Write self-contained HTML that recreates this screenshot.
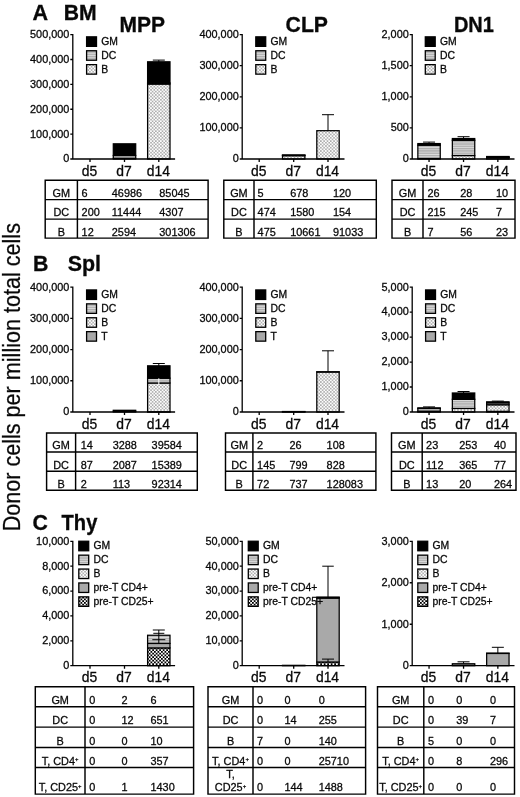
<!DOCTYPE html>
<html lang="en"><head><meta charset="utf-8"><title>Donor cells per million total cells</title>
<style>html,body{margin:0;padding:0;background:#fff}body{width:520px;height:797px;overflow:hidden}svg{display:block}text{font-family:"Liberation Sans", Arial, Helvetica, sans-serif;fill:#080808}</style>
</head><body>
<svg width="520" height="797" viewBox="0 0 520 797">
<defs>
<pattern id="pB" width="3.3" height="3.3" patternUnits="userSpaceOnUse"><rect width="3.3" height="3.3" fill="#aaa"/><circle cx="0.825" cy="0.825" r="1.02" fill="#fff"/><circle cx="2.475" cy="2.475" r="1.02" fill="#fff"/></pattern>
<pattern id="pDC" width="4" height="2.3" patternUnits="userSpaceOnUse"><rect width="4" height="2.3" fill="#dcdcdc"/><rect y="0.9" width="4" height="1.1" fill="#a4a4a4"/></pattern>
<pattern id="pT" width="2" height="2" patternUnits="userSpaceOnUse"><rect width="2" height="2" fill="#a9a9a9"/></pattern>
<pattern id="pC" width="3.5" height="3.5" patternUnits="userSpaceOnUse"><rect width="3.5" height="3.5" fill="#fff"/><rect width="1.75" height="1.75" fill="#000"/><rect x="1.75" y="1.75" width="1.75" height="1.75" fill="#000"/></pattern>
</defs>
<rect width="520" height="797" fill="#fff"/>
<text transform="translate(19.7 377.2) rotate(-90) scale(1 1.075)" font-size="21.6" text-anchor="middle" stroke="#111" stroke-width="0.25">Donor cells per million total cells</text>
<text transform="translate(32.5 19.7) scale(1.0 0.986)" font-size="21.6" text-anchor="start" font-weight="bold" stroke="#080808" stroke-width="0.3">A</text>
<text transform="translate(63.7 19.7) scale(1.0 1.005)" font-size="21.2" text-anchor="start" font-weight="bold" stroke="#080808" stroke-width="0.3">BM</text>
<text transform="translate(119.6 31.6) scale(1.0 1.014)" font-size="21.0" text-anchor="start" font-weight="bold" stroke="#080808" stroke-width="0.3">MPP</text>
<text transform="translate(285.6 31.6) scale(1.0 1.005)" font-size="21.2" text-anchor="start" font-weight="bold" stroke="#080808" stroke-width="0.3">CLP</text>
<text transform="translate(453.9 31.7) scale(1.0 1.065)" font-size="20.0" text-anchor="start" font-weight="bold" stroke="#080808" stroke-width="0.3">DN1</text>
<text transform="translate(32.9 271.4) scale(1.0 1.0)" font-size="21.3" text-anchor="start" font-weight="bold" stroke="#080808" stroke-width="0.3">B</text>
<text transform="translate(67.8 271.4) scale(1.0 0.995)" font-size="21.4" text-anchor="start" font-weight="bold" stroke="#080808" stroke-width="0.3">Spl</text>
<text transform="translate(32.6 530.2) scale(1.0 1.0)" font-size="21.3" text-anchor="start" font-weight="bold" stroke="#080808" stroke-width="0.3">C</text>
<text transform="translate(61.6 530.2) scale(1.0 1.06)" font-size="20.1" text-anchor="start" font-weight="bold" stroke="#080808" stroke-width="0.3">Thy</text>
<rect x="113.3" y="158.35" width="22.4" height="0.65" fill="url(#pB)" stroke="#000" stroke-width="1.25"/>
<rect x="113.3" y="155.51" width="22.4" height="2.85" fill="url(#pDC)" stroke="#000" stroke-width="1.25"/>
<rect x="113.3" y="143.82" width="22.4" height="11.69" fill="#000" stroke="#000" stroke-width="1.25"/>
<rect x="147.6" y="84.04" width="22.4" height="74.96" fill="url(#pB)" stroke="#000" stroke-width="1.25"/>
<rect x="147.6" y="82.96" width="22.4" height="1.07" fill="url(#pDC)" stroke="#000" stroke-width="1.25"/>
<rect x="147.6" y="61.8" width="22.4" height="21.16" fill="#000" stroke="#000" stroke-width="1.25"/>
<path d="M158.8 62V60.1M152.8 60.1H164.8" stroke="#000" stroke-width="1" fill="none"/>
<path d="M72.8 34V159H175.1M72.8 159h-2.5M72.8 134.12h-2.5M72.8 109.24h-2.5M72.8 84.36h-2.5M72.8 59.48h-2.5M72.8 34.6h-2.5M90 159v3.1M124.5 159v3.1M158.8 159v3.1" stroke="#000" stroke-width="1.3" fill="none"/>
<text transform="translate(69.4 162.4) scale(1.0 1.0)" font-size="10.9" text-anchor="end" stroke="#080808" stroke-width="0.28">0</text>
<text transform="translate(69.4 137.52) scale(1.0 1.0)" font-size="10.9" text-anchor="end" stroke="#080808" stroke-width="0.28">100,000</text>
<text transform="translate(69.4 112.64) scale(1.0 1.0)" font-size="10.9" text-anchor="end" stroke="#080808" stroke-width="0.28">200,000</text>
<text transform="translate(69.4 87.76) scale(1.0 1.0)" font-size="10.9" text-anchor="end" stroke="#080808" stroke-width="0.28">300,000</text>
<text transform="translate(69.4 62.88) scale(1.0 1.0)" font-size="10.9" text-anchor="end" stroke="#080808" stroke-width="0.28">400,000</text>
<text transform="translate(69.4 38) scale(1.0 1.0)" font-size="10.9" text-anchor="end" stroke="#080808" stroke-width="0.28">500,000</text>
<text transform="translate(89.5 175.7) scale(1.0 1.06)" font-size="13.9" text-anchor="middle" stroke="#080808" stroke-width="0.28">d5</text>
<text transform="translate(124 175.7) scale(1.0 1.06)" font-size="13.9" text-anchor="middle" stroke="#080808" stroke-width="0.28">d7</text>
<text transform="translate(158.3 175.7) scale(1.0 1.06)" font-size="13.9" text-anchor="middle" stroke="#080808" stroke-width="0.28">d14</text>
<rect x="86.6" y="36.85" width="9.9" height="9.5" fill="#000" stroke="#000" stroke-width="1.3"/>
<text transform="translate(101.2 45) scale(1.0 1.0)" font-size="10.4" text-anchor="start" stroke="#080808" stroke-width="0.28">GM</text>
<rect x="86.6" y="50.75" width="9.9" height="9.5" fill="url(#pDC)" stroke="#000" stroke-width="1.3"/>
<text transform="translate(101.2 58.9) scale(1.0 1.0)" font-size="10.4" text-anchor="start" stroke="#080808" stroke-width="0.28">DC</text>
<rect x="86.6" y="64.65" width="9.9" height="9.5" fill="url(#pB)" stroke="#000" stroke-width="1.3"/>
<text transform="translate(101.2 72.8) scale(1.0 1.0)" font-size="10.4" text-anchor="start" stroke="#080808" stroke-width="0.28">B</text>
<rect x="282.5" y="155.68" width="22.4" height="3.32" fill="url(#pB)" stroke="#000" stroke-width="1.25"/>
<rect x="282.5" y="155.19" width="22.4" height="0.49" fill="url(#pDC)" stroke="#000" stroke-width="1.25"/>
<rect x="282.5" y="154.98" width="22.4" height="0.21" fill="#000" stroke="#000" stroke-width="1.25"/>
<rect x="316.8" y="130.69" width="22.4" height="28.31" fill="url(#pB)" stroke="#000" stroke-width="1.25"/>
<path d="M328 130.5V114.7M322 114.7H334" stroke="#000" stroke-width="1" fill="none"/>
<path d="M242.2 34V159H344.5M242.2 159h-2.5M242.2 127.9h-2.5M242.2 96.8h-2.5M242.2 65.7h-2.5M242.2 34.6h-2.5M259.2 159v3.1M293.7 159v3.1M328 159v3.1" stroke="#000" stroke-width="1.3" fill="none"/>
<text transform="translate(238.8 162.4) scale(1.0 1.0)" font-size="10.9" text-anchor="end" stroke="#080808" stroke-width="0.28">0</text>
<text transform="translate(238.8 131.3) scale(1.0 1.0)" font-size="10.9" text-anchor="end" stroke="#080808" stroke-width="0.28">100,000</text>
<text transform="translate(238.8 100.2) scale(1.0 1.0)" font-size="10.9" text-anchor="end" stroke="#080808" stroke-width="0.28">200,000</text>
<text transform="translate(238.8 69.1) scale(1.0 1.0)" font-size="10.9" text-anchor="end" stroke="#080808" stroke-width="0.28">300,000</text>
<text transform="translate(238.8 38) scale(1.0 1.0)" font-size="10.9" text-anchor="end" stroke="#080808" stroke-width="0.28">400,000</text>
<text transform="translate(258.7 175.7) scale(1.0 1.06)" font-size="13.9" text-anchor="middle" stroke="#080808" stroke-width="0.28">d5</text>
<text transform="translate(293.2 175.7) scale(1.0 1.06)" font-size="13.9" text-anchor="middle" stroke="#080808" stroke-width="0.28">d7</text>
<text transform="translate(327.5 175.7) scale(1.0 1.06)" font-size="13.9" text-anchor="middle" stroke="#080808" stroke-width="0.28">d14</text>
<rect x="255.8" y="36.85" width="9.9" height="9.5" fill="#000" stroke="#000" stroke-width="1.3"/>
<text transform="translate(270.4 45) scale(1.0 1.0)" font-size="10.4" text-anchor="start" stroke="#080808" stroke-width="0.28">GM</text>
<rect x="255.8" y="50.75" width="9.9" height="9.5" fill="url(#pDC)" stroke="#000" stroke-width="1.3"/>
<text transform="translate(270.4 58.9) scale(1.0 1.0)" font-size="10.4" text-anchor="start" stroke="#080808" stroke-width="0.28">DC</text>
<rect x="255.8" y="64.65" width="9.9" height="9.5" fill="url(#pB)" stroke="#000" stroke-width="1.3"/>
<text transform="translate(270.4 72.8) scale(1.0 1.0)" font-size="10.4" text-anchor="start" stroke="#080808" stroke-width="0.28">B</text>
<rect x="417.85" y="158.56" width="22.4" height="0.44" fill="url(#pB)" stroke="#000" stroke-width="1.25"/>
<rect x="417.85" y="145.19" width="22.4" height="13.37" fill="url(#pDC)" stroke="#000" stroke-width="1.25"/>
<rect x="417.85" y="143.57" width="22.4" height="1.62" fill="#000" stroke="#000" stroke-width="1.25"/>
<rect x="452.35" y="155.52" width="22.4" height="3.48" fill="url(#pB)" stroke="#000" stroke-width="1.25"/>
<rect x="452.35" y="140.28" width="22.4" height="15.24" fill="url(#pDC)" stroke="#000" stroke-width="1.25"/>
<rect x="452.35" y="138.54" width="22.4" height="1.74" fill="#000" stroke="#000" stroke-width="1.25"/>
<rect x="486.65" y="157.57" width="22.4" height="1.43" fill="url(#pB)" stroke="#000" stroke-width="1.25"/>
<rect x="486.65" y="157.13" width="22.4" height="0.44" fill="url(#pDC)" stroke="#000" stroke-width="1.25"/>
<rect x="486.65" y="156.51" width="22.4" height="0.62" fill="#000" stroke="#000" stroke-width="1.25"/>
<path d="M429.05 144V142.1M423.05 142.1H435.05" stroke="#000" stroke-width="1" fill="none"/>
<path d="M463.55 138.8V136.7M457.55 136.7H469.55" stroke="#000" stroke-width="1" fill="none"/>
<path d="M412.2 34V159H514.5M412.2 159h-2.5M412.2 127.9h-2.5M412.2 96.8h-2.5M412.2 65.7h-2.5M412.2 34.6h-2.5M429.05 159v3.1M463.55 159v3.1M497.85 159v3.1" stroke="#000" stroke-width="1.3" fill="none"/>
<text transform="translate(408.8 162.4) scale(1.0 1.0)" font-size="10.9" text-anchor="end" stroke="#080808" stroke-width="0.28">0</text>
<text transform="translate(408.8 131.3) scale(1.0 1.0)" font-size="10.9" text-anchor="end" stroke="#080808" stroke-width="0.28">500</text>
<text transform="translate(408.8 100.2) scale(1.0 1.0)" font-size="10.9" text-anchor="end" stroke="#080808" stroke-width="0.28">1,000</text>
<text transform="translate(408.8 69.1) scale(1.0 1.0)" font-size="10.9" text-anchor="end" stroke="#080808" stroke-width="0.28">1,500</text>
<text transform="translate(408.8 38) scale(1.0 1.0)" font-size="10.9" text-anchor="end" stroke="#080808" stroke-width="0.28">2,000</text>
<text transform="translate(428.55 175.7) scale(1.0 1.06)" font-size="13.9" text-anchor="middle" stroke="#080808" stroke-width="0.28">d5</text>
<text transform="translate(463.05 175.7) scale(1.0 1.06)" font-size="13.9" text-anchor="middle" stroke="#080808" stroke-width="0.28">d7</text>
<text transform="translate(497.35 175.7) scale(1.0 1.06)" font-size="13.9" text-anchor="middle" stroke="#080808" stroke-width="0.28">d14</text>
<rect x="425.3" y="36.85" width="9.9" height="9.5" fill="#000" stroke="#000" stroke-width="1.3"/>
<text transform="translate(439.9 45) scale(1.0 1.0)" font-size="10.4" text-anchor="start" stroke="#080808" stroke-width="0.28">GM</text>
<rect x="425.3" y="50.75" width="9.9" height="9.5" fill="url(#pDC)" stroke="#000" stroke-width="1.3"/>
<text transform="translate(439.9 58.9) scale(1.0 1.0)" font-size="10.4" text-anchor="start" stroke="#080808" stroke-width="0.28">DC</text>
<rect x="425.3" y="64.65" width="9.9" height="9.5" fill="url(#pB)" stroke="#000" stroke-width="1.3"/>
<text transform="translate(439.9 72.8) scale(1.0 1.0)" font-size="10.4" text-anchor="start" stroke="#080808" stroke-width="0.28">B</text>
<rect x="113.3" y="411.31" width="22.4" height="0.65" fill="url(#pDC)" stroke="#000" stroke-width="1.25"/>
<rect x="113.3" y="410.29" width="22.4" height="1.03" fill="#000" stroke="#000" stroke-width="1.25"/>
<rect x="147.6" y="411.81" width="22.4" height="0.19" fill="url(#pT)" stroke="#000" stroke-width="1.25"/>
<rect x="147.6" y="382.99" width="22.4" height="28.83" fill="url(#pB)" stroke="#000" stroke-width="1.25"/>
<rect x="147.6" y="378.18" width="22.4" height="4.81" fill="url(#pDC)" stroke="#000" stroke-width="1.25"/>
<rect x="147.6" y="365.82" width="22.4" height="12.36" fill="#000" stroke="#000" stroke-width="1.25"/>
<path d="M158.8 366.5V363.5M152.8 363.5H164.8" stroke="#000" stroke-width="1" fill="none"/>
<path d="M158.8 385V378.3M158.8 378.3H158.8" stroke="#fff" stroke-width="1" fill="none"/>
<path d="M72.8 286.5V412H175.1M72.8 412h-2.5M72.8 380.77h-2.5M72.8 349.55h-2.5M72.8 318.33h-2.5M72.8 287.1h-2.5M90 412v3.1M124.5 412v3.1M158.8 412v3.1" stroke="#000" stroke-width="1.3" fill="none"/>
<text transform="translate(69.4 415.4) scale(1.0 1.0)" font-size="10.9" text-anchor="end" stroke="#080808" stroke-width="0.28">0</text>
<text transform="translate(69.4 384.17) scale(1.0 1.0)" font-size="10.9" text-anchor="end" stroke="#080808" stroke-width="0.28">100,000</text>
<text transform="translate(69.4 352.95) scale(1.0 1.0)" font-size="10.9" text-anchor="end" stroke="#080808" stroke-width="0.28">200,000</text>
<text transform="translate(69.4 321.73) scale(1.0 1.0)" font-size="10.9" text-anchor="end" stroke="#080808" stroke-width="0.28">300,000</text>
<text transform="translate(69.4 290.5) scale(1.0 1.0)" font-size="10.9" text-anchor="end" stroke="#080808" stroke-width="0.28">400,000</text>
<text transform="translate(89.5 428.7) scale(1.0 1.06)" font-size="13.9" text-anchor="middle" stroke="#080808" stroke-width="0.28">d5</text>
<text transform="translate(124 428.7) scale(1.0 1.06)" font-size="13.9" text-anchor="middle" stroke="#080808" stroke-width="0.28">d7</text>
<text transform="translate(158.3 428.7) scale(1.0 1.06)" font-size="13.9" text-anchor="middle" stroke="#080808" stroke-width="0.28">d14</text>
<rect x="86.6" y="289.95" width="9.9" height="9.5" fill="#000" stroke="#000" stroke-width="1.3"/>
<text transform="translate(101.2 298.1) scale(1.0 1.0)" font-size="10.4" text-anchor="start" stroke="#080808" stroke-width="0.28">GM</text>
<rect x="86.6" y="303.85" width="9.9" height="9.5" fill="url(#pDC)" stroke="#000" stroke-width="1.3"/>
<text transform="translate(101.2 312) scale(1.0 1.0)" font-size="10.4" text-anchor="start" stroke="#080808" stroke-width="0.28">DC</text>
<rect x="86.6" y="317.75" width="9.9" height="9.5" fill="url(#pB)" stroke="#000" stroke-width="1.3"/>
<text transform="translate(101.2 325.9) scale(1.0 1.0)" font-size="10.4" text-anchor="start" stroke="#080808" stroke-width="0.28">B</text>
<rect x="86.6" y="331.65" width="9.9" height="9.5" fill="url(#pT)" stroke="#000" stroke-width="1.3"/>
<text transform="translate(101.2 339.8) scale(1.0 1.0)" font-size="10.4" text-anchor="start" stroke="#080808" stroke-width="0.28">T</text>
<rect x="282.5" y="411.77" width="22.4" height="0.23" fill="url(#pB)" stroke="#000" stroke-width="1.25"/>
<rect x="282.5" y="411.52" width="22.4" height="0.25" fill="url(#pDC)" stroke="#000" stroke-width="1.25"/>
<rect x="316.8" y="372.01" width="22.4" height="39.99" fill="url(#pB)" stroke="#000" stroke-width="1.25"/>
<rect x="316.8" y="371.75" width="22.4" height="0.26" fill="url(#pDC)" stroke="#000" stroke-width="1.25"/>
<path d="M328 372V350.8M322 350.8H334" stroke="#000" stroke-width="1" fill="none"/>
<path d="M242.2 286.5V412H344.5M242.2 412h-2.5M242.2 380.77h-2.5M242.2 349.55h-2.5M242.2 318.33h-2.5M242.2 287.1h-2.5M259.2 412v3.1M293.7 412v3.1M328 412v3.1" stroke="#000" stroke-width="1.3" fill="none"/>
<text transform="translate(238.8 415.4) scale(1.0 1.0)" font-size="10.9" text-anchor="end" stroke="#080808" stroke-width="0.28">0</text>
<text transform="translate(238.8 384.17) scale(1.0 1.0)" font-size="10.9" text-anchor="end" stroke="#080808" stroke-width="0.28">100,000</text>
<text transform="translate(238.8 352.95) scale(1.0 1.0)" font-size="10.9" text-anchor="end" stroke="#080808" stroke-width="0.28">200,000</text>
<text transform="translate(238.8 321.73) scale(1.0 1.0)" font-size="10.9" text-anchor="end" stroke="#080808" stroke-width="0.28">300,000</text>
<text transform="translate(238.8 290.5) scale(1.0 1.0)" font-size="10.9" text-anchor="end" stroke="#080808" stroke-width="0.28">400,000</text>
<text transform="translate(258.7 428.7) scale(1.0 1.06)" font-size="13.9" text-anchor="middle" stroke="#080808" stroke-width="0.28">d5</text>
<text transform="translate(293.2 428.7) scale(1.0 1.06)" font-size="13.9" text-anchor="middle" stroke="#080808" stroke-width="0.28">d7</text>
<text transform="translate(327.5 428.7) scale(1.0 1.06)" font-size="13.9" text-anchor="middle" stroke="#080808" stroke-width="0.28">d14</text>
<rect x="255.8" y="289.95" width="9.9" height="9.5" fill="#000" stroke="#000" stroke-width="1.3"/>
<text transform="translate(270.4 298.1) scale(1.0 1.0)" font-size="10.4" text-anchor="start" stroke="#080808" stroke-width="0.28">GM</text>
<rect x="255.8" y="303.85" width="9.9" height="9.5" fill="url(#pDC)" stroke="#000" stroke-width="1.3"/>
<text transform="translate(270.4 312) scale(1.0 1.0)" font-size="10.4" text-anchor="start" stroke="#080808" stroke-width="0.28">DC</text>
<rect x="255.8" y="317.75" width="9.9" height="9.5" fill="url(#pB)" stroke="#000" stroke-width="1.3"/>
<text transform="translate(270.4 325.9) scale(1.0 1.0)" font-size="10.4" text-anchor="start" stroke="#080808" stroke-width="0.28">B</text>
<rect x="255.8" y="331.65" width="9.9" height="9.5" fill="url(#pT)" stroke="#000" stroke-width="1.3"/>
<text transform="translate(270.4 339.8) scale(1.0 1.0)" font-size="10.4" text-anchor="start" stroke="#080808" stroke-width="0.28">T</text>
<rect x="417.85" y="411.58" width="22.4" height="0.42" fill="url(#pT)" stroke="#000" stroke-width="1.25"/>
<rect x="417.85" y="411.25" width="22.4" height="0.32" fill="url(#pB)" stroke="#000" stroke-width="1.25"/>
<rect x="417.85" y="408.45" width="22.4" height="2.8" fill="url(#pDC)" stroke="#000" stroke-width="1.25"/>
<rect x="417.85" y="407.88" width="22.4" height="0.57" fill="#000" stroke="#000" stroke-width="1.25"/>
<rect x="452.35" y="408.43" width="22.4" height="3.57" fill="url(#pB)" stroke="#000" stroke-width="1.25"/>
<rect x="452.35" y="399.31" width="22.4" height="9.12" fill="url(#pDC)" stroke="#000" stroke-width="1.25"/>
<rect x="452.35" y="392.99" width="22.4" height="6.32" fill="#000" stroke="#000" stroke-width="1.25"/>
<rect x="486.65" y="411.35" width="22.4" height="0.65" fill="url(#pT)" stroke="#000" stroke-width="1.25"/>
<rect x="486.65" y="404.76" width="22.4" height="6.59" fill="url(#pB)" stroke="#000" stroke-width="1.25"/>
<rect x="486.65" y="402.83" width="22.4" height="1.92" fill="url(#pDC)" stroke="#000" stroke-width="1.25"/>
<rect x="486.65" y="401.83" width="22.4" height="1" fill="#000" stroke="#000" stroke-width="1.25"/>
<path d="M429.05 408.1V406.9M423.05 406.9H435.05" stroke="#000" stroke-width="1" fill="none"/>
<path d="M463.55 393.3V391.5M457.55 391.5H469.55" stroke="#000" stroke-width="1" fill="none"/>
<path d="M497.85 402V401.1M491.85 401.1H503.85" stroke="#000" stroke-width="1" fill="none"/>
<path d="M412.2 286.5V412H514.5M412.2 412h-2.5M412.2 387.02h-2.5M412.2 362.04h-2.5M412.2 337.06h-2.5M412.2 312.08h-2.5M412.2 287.1h-2.5M429.05 412v3.1M463.55 412v3.1M497.85 412v3.1" stroke="#000" stroke-width="1.3" fill="none"/>
<text transform="translate(408.8 415.4) scale(1.0 1.0)" font-size="10.9" text-anchor="end" stroke="#080808" stroke-width="0.28">0</text>
<text transform="translate(408.8 390.42) scale(1.0 1.0)" font-size="10.9" text-anchor="end" stroke="#080808" stroke-width="0.28">1,000</text>
<text transform="translate(408.8 365.44) scale(1.0 1.0)" font-size="10.9" text-anchor="end" stroke="#080808" stroke-width="0.28">2,000</text>
<text transform="translate(408.8 340.46) scale(1.0 1.0)" font-size="10.9" text-anchor="end" stroke="#080808" stroke-width="0.28">3,000</text>
<text transform="translate(408.8 315.48) scale(1.0 1.0)" font-size="10.9" text-anchor="end" stroke="#080808" stroke-width="0.28">4,000</text>
<text transform="translate(408.8 290.5) scale(1.0 1.0)" font-size="10.9" text-anchor="end" stroke="#080808" stroke-width="0.28">5,000</text>
<text transform="translate(428.55 428.7) scale(1.0 1.06)" font-size="13.9" text-anchor="middle" stroke="#080808" stroke-width="0.28">d5</text>
<text transform="translate(463.05 428.7) scale(1.0 1.06)" font-size="13.9" text-anchor="middle" stroke="#080808" stroke-width="0.28">d7</text>
<text transform="translate(497.35 428.7) scale(1.0 1.06)" font-size="13.9" text-anchor="middle" stroke="#080808" stroke-width="0.28">d14</text>
<rect x="425.6" y="289.95" width="9.9" height="9.5" fill="#000" stroke="#000" stroke-width="1.3"/>
<text transform="translate(440.2 298.1) scale(1.0 1.0)" font-size="10.4" text-anchor="start" stroke="#080808" stroke-width="0.28">GM</text>
<rect x="425.6" y="303.85" width="9.9" height="9.5" fill="url(#pDC)" stroke="#000" stroke-width="1.3"/>
<text transform="translate(440.2 312) scale(1.0 1.0)" font-size="10.4" text-anchor="start" stroke="#080808" stroke-width="0.28">DC</text>
<rect x="425.6" y="317.75" width="9.9" height="9.5" fill="url(#pB)" stroke="#000" stroke-width="1.3"/>
<text transform="translate(440.2 325.9) scale(1.0 1.0)" font-size="10.4" text-anchor="start" stroke="#080808" stroke-width="0.28">B</text>
<rect x="425.6" y="331.65" width="9.9" height="9.5" fill="url(#pT)" stroke="#000" stroke-width="1.3"/>
<text transform="translate(440.2 339.8) scale(1.0 1.0)" font-size="10.4" text-anchor="start" stroke="#080808" stroke-width="0.28">T</text>
<rect x="147.6" y="647.91" width="22.4" height="17.79" fill="url(#pC)" stroke="#000" stroke-width="1.25"/>
<rect x="147.6" y="643.47" width="22.4" height="4.44" fill="url(#pT)" stroke="#000" stroke-width="1.25"/>
<rect x="147.6" y="635.25" width="22.4" height="8.1" fill="url(#pDC)" stroke="#000" stroke-width="1.25"/>
<path d="M158.8 644V630M152.8 630H164.8" stroke="#000" stroke-width="1" fill="none"/>
<path d="M158.8 633.5V633.3M153.3 633.3H164.3" stroke="#000" stroke-width="1" fill="none"/>
<path d="M158.8 639.8V639.7M152.3 639.7H165.3" stroke="#000" stroke-width="1" fill="none"/>
<path d="M72.8 540.7V665.7H175.1M72.8 665.7h-2.5M72.8 640.82h-2.5M72.8 615.94h-2.5M72.8 591.06h-2.5M72.8 566.18h-2.5M72.8 541.3h-2.5M90 665.7v3.1M124.5 665.7v3.1M158.8 665.7v3.1" stroke="#000" stroke-width="1.3" fill="none"/>
<text transform="translate(69.4 669.1) scale(1.0 1.0)" font-size="10.9" text-anchor="end" stroke="#080808" stroke-width="0.28">0</text>
<text transform="translate(69.4 644.22) scale(1.0 1.0)" font-size="10.9" text-anchor="end" stroke="#080808" stroke-width="0.28">2,000</text>
<text transform="translate(69.4 619.34) scale(1.0 1.0)" font-size="10.9" text-anchor="end" stroke="#080808" stroke-width="0.28">4,000</text>
<text transform="translate(69.4 594.46) scale(1.0 1.0)" font-size="10.9" text-anchor="end" stroke="#080808" stroke-width="0.28">6,000</text>
<text transform="translate(69.4 569.58) scale(1.0 1.0)" font-size="10.9" text-anchor="end" stroke="#080808" stroke-width="0.28">8,000</text>
<text transform="translate(69.4 544.7) scale(1.0 1.0)" font-size="10.9" text-anchor="end" stroke="#080808" stroke-width="0.28">10,000</text>
<text transform="translate(89.5 682.4) scale(1.0 1.06)" font-size="13.9" text-anchor="middle" stroke="#080808" stroke-width="0.28">d5</text>
<text transform="translate(124 682.4) scale(1.0 1.06)" font-size="13.9" text-anchor="middle" stroke="#080808" stroke-width="0.28">d7</text>
<text transform="translate(158.3 682.4) scale(1.0 1.06)" font-size="13.9" text-anchor="middle" stroke="#080808" stroke-width="0.28">d14</text>
<rect x="78.8" y="541.25" width="9.9" height="9.5" fill="#000" stroke="#000" stroke-width="1.3"/>
<text transform="translate(93.4 549.4) scale(1.0 1.0)" font-size="10.4" text-anchor="start" stroke="#080808" stroke-width="0.28">GM</text>
<rect x="78.8" y="555.15" width="9.9" height="9.5" fill="url(#pDC)" stroke="#000" stroke-width="1.3"/>
<text transform="translate(93.4 563.3) scale(1.0 1.0)" font-size="10.4" text-anchor="start" stroke="#080808" stroke-width="0.28">DC</text>
<rect x="78.8" y="569.05" width="9.9" height="9.5" fill="url(#pB)" stroke="#000" stroke-width="1.3"/>
<text transform="translate(93.4 577.2) scale(1.0 1.0)" font-size="10.4" text-anchor="start" stroke="#080808" stroke-width="0.28">B</text>
<rect x="78.8" y="582.95" width="9.9" height="9.5" fill="url(#pT)" stroke="#000" stroke-width="1.3"/>
<text transform="translate(93.4 591.1) scale(1.0 1.0)" font-size="10.4" text-anchor="start" stroke="#080808" stroke-width="0.28">pre-T CD4+</text>
<rect x="78.8" y="596.85" width="9.9" height="9.5" fill="url(#pC)" stroke="#000" stroke-width="1.3"/>
<text transform="translate(93.4 605) scale(1.0 1.0)" font-size="10.4" text-anchor="start" stroke="#080808" stroke-width="0.28">pre-T CD25+</text>
<rect x="282.5" y="665.34" width="22.4" height="0.36" fill="url(#pC)" stroke="#000" stroke-width="1.25"/>
<rect x="316.8" y="662" width="22.4" height="3.7" fill="url(#pC)" stroke="#000" stroke-width="1.25"/>
<rect x="316.8" y="598.03" width="22.4" height="63.97" fill="url(#pT)" stroke="#000" stroke-width="1.25"/>
<rect x="316.8" y="597.68" width="22.4" height="0.35" fill="url(#pB)" stroke="#000" stroke-width="1.25"/>
<rect x="316.8" y="597.05" width="22.4" height="0.63" fill="url(#pDC)" stroke="#000" stroke-width="1.25"/>
<path d="M328 597V566.2M322.25 566.2H333.75" stroke="#000" stroke-width="1" fill="none"/>
<path d="M328 662V659.1M322 659.1H334" stroke="#000" stroke-width="1" fill="none"/>
<path d="M242.2 540.7V665.7H344.5M242.2 665.7h-2.5M242.2 640.82h-2.5M242.2 615.94h-2.5M242.2 591.06h-2.5M242.2 566.18h-2.5M242.2 541.3h-2.5M259.2 665.7v3.1M293.7 665.7v3.1M328 665.7v3.1" stroke="#000" stroke-width="1.3" fill="none"/>
<text transform="translate(238.8 669.1) scale(1.0 1.0)" font-size="10.9" text-anchor="end" stroke="#080808" stroke-width="0.28">0</text>
<text transform="translate(238.8 644.22) scale(1.0 1.0)" font-size="10.9" text-anchor="end" stroke="#080808" stroke-width="0.28">10,000</text>
<text transform="translate(238.8 619.34) scale(1.0 1.0)" font-size="10.9" text-anchor="end" stroke="#080808" stroke-width="0.28">20,000</text>
<text transform="translate(238.8 594.46) scale(1.0 1.0)" font-size="10.9" text-anchor="end" stroke="#080808" stroke-width="0.28">30,000</text>
<text transform="translate(238.8 569.58) scale(1.0 1.0)" font-size="10.9" text-anchor="end" stroke="#080808" stroke-width="0.28">40,000</text>
<text transform="translate(238.8 544.7) scale(1.0 1.0)" font-size="10.9" text-anchor="end" stroke="#080808" stroke-width="0.28">50,000</text>
<text transform="translate(258.7 682.4) scale(1.0 1.06)" font-size="13.9" text-anchor="middle" stroke="#080808" stroke-width="0.28">d5</text>
<text transform="translate(293.2 682.4) scale(1.0 1.06)" font-size="13.9" text-anchor="middle" stroke="#080808" stroke-width="0.28">d7</text>
<text transform="translate(327.5 682.4) scale(1.0 1.06)" font-size="13.9" text-anchor="middle" stroke="#080808" stroke-width="0.28">d14</text>
<rect x="248.3" y="541.25" width="9.9" height="9.5" fill="#000" stroke="#000" stroke-width="1.3"/>
<text transform="translate(262.9 549.4) scale(1.0 1.0)" font-size="10.4" text-anchor="start" stroke="#080808" stroke-width="0.28">GM</text>
<rect x="248.3" y="555.15" width="9.9" height="9.5" fill="url(#pDC)" stroke="#000" stroke-width="1.3"/>
<text transform="translate(262.9 563.3) scale(1.0 1.0)" font-size="10.4" text-anchor="start" stroke="#080808" stroke-width="0.28">DC</text>
<rect x="248.3" y="569.05" width="9.9" height="9.5" fill="url(#pB)" stroke="#000" stroke-width="1.3"/>
<text transform="translate(262.9 577.2) scale(1.0 1.0)" font-size="10.4" text-anchor="start" stroke="#080808" stroke-width="0.28">B</text>
<rect x="248.3" y="582.95" width="9.9" height="9.5" fill="url(#pT)" stroke="#000" stroke-width="1.3"/>
<text transform="translate(262.9 591.1) scale(1.0 1.0)" font-size="10.4" text-anchor="start" stroke="#080808" stroke-width="0.28">pre-T CD4+</text>
<rect x="248.3" y="596.85" width="9.9" height="9.5" fill="url(#pC)" stroke="#000" stroke-width="1.3"/>
<text transform="translate(262.9 605) scale(1.0 1.0)" font-size="10.4" text-anchor="start" stroke="#080808" stroke-width="0.28">pre-T CD25+</text>
<rect x="452.35" y="665.37" width="22.4" height="0.33" fill="url(#pT)" stroke="#000" stroke-width="1.25"/>
<rect x="452.35" y="663.75" width="22.4" height="1.62" fill="url(#pDC)" stroke="#000" stroke-width="1.25"/>
<rect x="486.65" y="653.43" width="22.4" height="12.27" fill="url(#pT)" stroke="#000" stroke-width="1.25"/>
<rect x="486.65" y="653.14" width="22.4" height="0.29" fill="url(#pDC)" stroke="#000" stroke-width="1.25"/>
<path d="M463.55 663.5V661.8M457.55 661.8H469.55" stroke="#000" stroke-width="1" fill="none"/>
<path d="M497.85 653.1V647.3M491.85 647.3H503.85" stroke="#000" stroke-width="1" fill="none"/>
<path d="M412.2 540.7V665.7H514.5M412.2 665.7h-2.5M412.2 624.23h-2.5M412.2 582.77h-2.5M412.2 541.3h-2.5M429.05 665.7v3.1M463.55 665.7v3.1M497.85 665.7v3.1" stroke="#000" stroke-width="1.3" fill="none"/>
<text transform="translate(408.8 669.1) scale(1.0 1.0)" font-size="10.9" text-anchor="end" stroke="#080808" stroke-width="0.28">0</text>
<text transform="translate(408.8 627.63) scale(1.0 1.0)" font-size="10.9" text-anchor="end" stroke="#080808" stroke-width="0.28">1,000</text>
<text transform="translate(408.8 586.17) scale(1.0 1.0)" font-size="10.9" text-anchor="end" stroke="#080808" stroke-width="0.28">2,000</text>
<text transform="translate(408.8 544.7) scale(1.0 1.0)" font-size="10.9" text-anchor="end" stroke="#080808" stroke-width="0.28">3,000</text>
<text transform="translate(428.55 682.4) scale(1.0 1.06)" font-size="13.9" text-anchor="middle" stroke="#080808" stroke-width="0.28">d5</text>
<text transform="translate(463.05 682.4) scale(1.0 1.06)" font-size="13.9" text-anchor="middle" stroke="#080808" stroke-width="0.28">d7</text>
<text transform="translate(497.35 682.4) scale(1.0 1.06)" font-size="13.9" text-anchor="middle" stroke="#080808" stroke-width="0.28">d14</text>
<rect x="417.8" y="541.25" width="9.9" height="9.5" fill="#000" stroke="#000" stroke-width="1.3"/>
<text transform="translate(432.4 549.4) scale(1.0 1.0)" font-size="10.4" text-anchor="start" stroke="#080808" stroke-width="0.28">GM</text>
<rect x="417.8" y="555.15" width="9.9" height="9.5" fill="url(#pDC)" stroke="#000" stroke-width="1.3"/>
<text transform="translate(432.4 563.3) scale(1.0 1.0)" font-size="10.4" text-anchor="start" stroke="#080808" stroke-width="0.28">DC</text>
<rect x="417.8" y="569.05" width="9.9" height="9.5" fill="url(#pB)" stroke="#000" stroke-width="1.3"/>
<text transform="translate(432.4 577.2) scale(1.0 1.0)" font-size="10.4" text-anchor="start" stroke="#080808" stroke-width="0.28">B</text>
<rect x="417.8" y="582.95" width="9.9" height="9.5" fill="url(#pT)" stroke="#000" stroke-width="1.3"/>
<text transform="translate(432.4 591.1) scale(1.0 1.0)" font-size="10.4" text-anchor="start" stroke="#080808" stroke-width="0.28">pre-T CD4+</text>
<rect x="417.8" y="596.85" width="9.9" height="9.5" fill="url(#pC)" stroke="#000" stroke-width="1.3"/>
<text transform="translate(432.4 605) scale(1.0 1.0)" font-size="10.4" text-anchor="start" stroke="#080808" stroke-width="0.28">pre-T CD25+</text>
<path d="M45.2 180.3H208.1V238.1H45.2ZM45.2 199.6H208.1M45.2 219.1H208.1M77.4 180.3V238.1" stroke="#000" stroke-width="1.45" fill="none"/>
<text transform="translate(61.3 196.8) scale(1.0 1.0)" font-size="10.9" text-anchor="middle" stroke="#080808" stroke-width="0.28">GM</text>
<text transform="translate(81.6 196.8) scale(1.0 1.0)" font-size="10.9" text-anchor="start" stroke="#080808" stroke-width="0.28">6</text>
<text transform="translate(111.8 196.8) scale(1.0 1.0)" font-size="10.9" text-anchor="start" stroke="#080808" stroke-width="0.28">46986</text>
<text transform="translate(159.3 196.8) scale(1.0 1.0)" font-size="10.9" text-anchor="start" stroke="#080808" stroke-width="0.28">85045</text>
<text transform="translate(61.3 216.2) scale(1.0 1.0)" font-size="10.9" text-anchor="middle" stroke="#080808" stroke-width="0.28">DC</text>
<text transform="translate(81.6 216.2) scale(1.0 1.0)" font-size="10.9" text-anchor="start" stroke="#080808" stroke-width="0.28">200</text>
<text transform="translate(111.8 216.2) scale(1.0 1.0)" font-size="10.9" text-anchor="start" stroke="#080808" stroke-width="0.28">11444</text>
<text transform="translate(159.3 216.2) scale(1.0 1.0)" font-size="10.9" text-anchor="start" stroke="#080808" stroke-width="0.28">4307</text>
<text transform="translate(61.3 235.6) scale(1.0 1.0)" font-size="10.9" text-anchor="middle" stroke="#080808" stroke-width="0.28">B</text>
<text transform="translate(81.6 235.6) scale(1.0 1.0)" font-size="10.9" text-anchor="start" stroke="#080808" stroke-width="0.28">12</text>
<text transform="translate(111.8 235.6) scale(1.0 1.0)" font-size="10.9" text-anchor="start" stroke="#080808" stroke-width="0.28">2594</text>
<text transform="translate(159.3 235.6) scale(1.0 1.0)" font-size="10.9" text-anchor="start" stroke="#080808" stroke-width="0.28">301306</text>
<path d="M223.8 180.3H376.3V238.1H223.8ZM223.8 199.6H376.3M223.8 219.1H376.3M254 180.3V238.1" stroke="#000" stroke-width="1.45" fill="none"/>
<text transform="translate(238.9 196.8) scale(1.0 1.0)" font-size="10.9" text-anchor="middle" stroke="#080808" stroke-width="0.28">GM</text>
<text transform="translate(257.6 196.8) scale(1.0 1.0)" font-size="10.9" text-anchor="start" stroke="#080808" stroke-width="0.28">5</text>
<text transform="translate(290.2 196.8) scale(1.0 1.0)" font-size="10.9" text-anchor="start" stroke="#080808" stroke-width="0.28">678</text>
<text transform="translate(333 196.8) scale(1.0 1.0)" font-size="10.9" text-anchor="start" stroke="#080808" stroke-width="0.28">120</text>
<text transform="translate(238.9 216.2) scale(1.0 1.0)" font-size="10.9" text-anchor="middle" stroke="#080808" stroke-width="0.28">DC</text>
<text transform="translate(257.6 216.2) scale(1.0 1.0)" font-size="10.9" text-anchor="start" stroke="#080808" stroke-width="0.28">474</text>
<text transform="translate(290.2 216.2) scale(1.0 1.0)" font-size="10.9" text-anchor="start" stroke="#080808" stroke-width="0.28">1580</text>
<text transform="translate(333 216.2) scale(1.0 1.0)" font-size="10.9" text-anchor="start" stroke="#080808" stroke-width="0.28">154</text>
<text transform="translate(238.9 235.6) scale(1.0 1.0)" font-size="10.9" text-anchor="middle" stroke="#080808" stroke-width="0.28">B</text>
<text transform="translate(257.6 235.6) scale(1.0 1.0)" font-size="10.9" text-anchor="start" stroke="#080808" stroke-width="0.28">475</text>
<text transform="translate(290.2 235.6) scale(1.0 1.0)" font-size="10.9" text-anchor="start" stroke="#080808" stroke-width="0.28">10661</text>
<text transform="translate(333 235.6) scale(1.0 1.0)" font-size="10.9" text-anchor="start" stroke="#080808" stroke-width="0.28">91033</text>
<path d="M392 180.3H515V238.1H392ZM392 199.6H515M392 219.1H515M423 180.3V238.1" stroke="#000" stroke-width="1.45" fill="none"/>
<text transform="translate(407.5 196.8) scale(1.0 1.0)" font-size="10.9" text-anchor="middle" stroke="#080808" stroke-width="0.28">GM</text>
<text transform="translate(427.4 196.8) scale(1.0 1.0)" font-size="10.9" text-anchor="start" stroke="#080808" stroke-width="0.28">26</text>
<text transform="translate(460.2 196.8) scale(1.0 1.0)" font-size="10.9" text-anchor="start" stroke="#080808" stroke-width="0.28">28</text>
<text transform="translate(496 196.8) scale(1.0 1.0)" font-size="10.9" text-anchor="start" stroke="#080808" stroke-width="0.28">10</text>
<text transform="translate(407.5 216.2) scale(1.0 1.0)" font-size="10.9" text-anchor="middle" stroke="#080808" stroke-width="0.28">DC</text>
<text transform="translate(427.4 216.2) scale(1.0 1.0)" font-size="10.9" text-anchor="start" stroke="#080808" stroke-width="0.28">215</text>
<text transform="translate(460.2 216.2) scale(1.0 1.0)" font-size="10.9" text-anchor="start" stroke="#080808" stroke-width="0.28">245</text>
<text transform="translate(496 216.2) scale(1.0 1.0)" font-size="10.9" text-anchor="start" stroke="#080808" stroke-width="0.28">7</text>
<text transform="translate(407.5 235.6) scale(1.0 1.0)" font-size="10.9" text-anchor="middle" stroke="#080808" stroke-width="0.28">B</text>
<text transform="translate(427.4 235.6) scale(1.0 1.0)" font-size="10.9" text-anchor="start" stroke="#080808" stroke-width="0.28">7</text>
<text transform="translate(460.2 235.6) scale(1.0 1.0)" font-size="10.9" text-anchor="start" stroke="#080808" stroke-width="0.28">56</text>
<text transform="translate(496 235.6) scale(1.0 1.0)" font-size="10.9" text-anchor="start" stroke="#080808" stroke-width="0.28">23</text>
<path d="M46.6 433H197.3V490.2H46.6ZM46.6 452H197.3M46.6 471.3H197.3M75.6 433V490.2" stroke="#000" stroke-width="1.45" fill="none"/>
<text transform="translate(61.1 448.7) scale(1.0 1.0)" font-size="10.9" text-anchor="middle" stroke="#080808" stroke-width="0.28">GM</text>
<text transform="translate(80.7 448.7) scale(1.0 1.0)" font-size="10.9" text-anchor="start" stroke="#080808" stroke-width="0.28">14</text>
<text transform="translate(112.7 448.7) scale(1.0 1.0)" font-size="10.9" text-anchor="start" stroke="#080808" stroke-width="0.28">3288</text>
<text transform="translate(151.6 448.7) scale(1.0 1.0)" font-size="10.9" text-anchor="start" stroke="#080808" stroke-width="0.28">39584</text>
<text transform="translate(61.1 468.5) scale(1.0 1.0)" font-size="10.9" text-anchor="middle" stroke="#080808" stroke-width="0.28">DC</text>
<text transform="translate(80.7 468.5) scale(1.0 1.0)" font-size="10.9" text-anchor="start" stroke="#080808" stroke-width="0.28">87</text>
<text transform="translate(112.7 468.5) scale(1.0 1.0)" font-size="10.9" text-anchor="start" stroke="#080808" stroke-width="0.28">2087</text>
<text transform="translate(151.6 468.5) scale(1.0 1.0)" font-size="10.9" text-anchor="start" stroke="#080808" stroke-width="0.28">15389</text>
<text transform="translate(61.1 487.7) scale(1.0 1.0)" font-size="10.9" text-anchor="middle" stroke="#080808" stroke-width="0.28">B</text>
<text transform="translate(80.7 487.7) scale(1.0 1.0)" font-size="10.9" text-anchor="start" stroke="#080808" stroke-width="0.28">2</text>
<text transform="translate(112.7 487.7) scale(1.0 1.0)" font-size="10.9" text-anchor="start" stroke="#080808" stroke-width="0.28">113</text>
<text transform="translate(151.6 487.7) scale(1.0 1.0)" font-size="10.9" text-anchor="start" stroke="#080808" stroke-width="0.28">92314</text>
<path d="M225.5 433H375.9V490.2H225.5ZM225.5 452H375.9M225.5 471.3H375.9M252.9 433V490.2" stroke="#000" stroke-width="1.45" fill="none"/>
<text transform="translate(239.2 448.7) scale(1.0 1.0)" font-size="10.9" text-anchor="middle" stroke="#080808" stroke-width="0.28">GM</text>
<text transform="translate(257.1 448.7) scale(1.0 1.0)" font-size="10.9" text-anchor="start" stroke="#080808" stroke-width="0.28">2</text>
<text transform="translate(289.5 448.7) scale(1.0 1.0)" font-size="10.9" text-anchor="start" stroke="#080808" stroke-width="0.28">26</text>
<text transform="translate(326.6 448.7) scale(1.0 1.0)" font-size="10.9" text-anchor="start" stroke="#080808" stroke-width="0.28">108</text>
<text transform="translate(239.2 468.5) scale(1.0 1.0)" font-size="10.9" text-anchor="middle" stroke="#080808" stroke-width="0.28">DC</text>
<text transform="translate(257.1 468.5) scale(1.0 1.0)" font-size="10.9" text-anchor="start" stroke="#080808" stroke-width="0.28">145</text>
<text transform="translate(289.5 468.5) scale(1.0 1.0)" font-size="10.9" text-anchor="start" stroke="#080808" stroke-width="0.28">799</text>
<text transform="translate(326.6 468.5) scale(1.0 1.0)" font-size="10.9" text-anchor="start" stroke="#080808" stroke-width="0.28">828</text>
<text transform="translate(239.2 487.7) scale(1.0 1.0)" font-size="10.9" text-anchor="middle" stroke="#080808" stroke-width="0.28">B</text>
<text transform="translate(257.1 487.7) scale(1.0 1.0)" font-size="10.9" text-anchor="start" stroke="#080808" stroke-width="0.28">72</text>
<text transform="translate(289.5 487.7) scale(1.0 1.0)" font-size="10.9" text-anchor="start" stroke="#080808" stroke-width="0.28">737</text>
<text transform="translate(326.6 487.7) scale(1.0 1.0)" font-size="10.9" text-anchor="start" stroke="#080808" stroke-width="0.28">128083</text>
<path d="M391.5 433H516V490.2H391.5ZM391.5 452H516M391.5 471.3H516M422.2 433V490.2" stroke="#000" stroke-width="1.45" fill="none"/>
<text transform="translate(406.85 448.7) scale(1.0 1.0)" font-size="10.9" text-anchor="middle" stroke="#080808" stroke-width="0.28">GM</text>
<text transform="translate(426.1 448.7) scale(1.0 1.0)" font-size="10.9" text-anchor="start" stroke="#080808" stroke-width="0.28">23</text>
<text transform="translate(459.2 448.7) scale(1.0 1.0)" font-size="10.9" text-anchor="start" stroke="#080808" stroke-width="0.28">253</text>
<text transform="translate(494 448.7) scale(1.0 1.0)" font-size="10.9" text-anchor="start" stroke="#080808" stroke-width="0.28">40</text>
<text transform="translate(406.85 468.5) scale(1.0 1.0)" font-size="10.9" text-anchor="middle" stroke="#080808" stroke-width="0.28">DC</text>
<text transform="translate(426.1 468.5) scale(1.0 1.0)" font-size="10.9" text-anchor="start" stroke="#080808" stroke-width="0.28">112</text>
<text transform="translate(459.2 468.5) scale(1.0 1.0)" font-size="10.9" text-anchor="start" stroke="#080808" stroke-width="0.28">365</text>
<text transform="translate(494 468.5) scale(1.0 1.0)" font-size="10.9" text-anchor="start" stroke="#080808" stroke-width="0.28">77</text>
<text transform="translate(406.85 487.7) scale(1.0 1.0)" font-size="10.9" text-anchor="middle" stroke="#080808" stroke-width="0.28">B</text>
<text transform="translate(426.1 487.7) scale(1.0 1.0)" font-size="10.9" text-anchor="start" stroke="#080808" stroke-width="0.28">13</text>
<text transform="translate(459.2 487.7) scale(1.0 1.0)" font-size="10.9" text-anchor="start" stroke="#080808" stroke-width="0.28">20</text>
<text transform="translate(494 487.7) scale(1.0 1.0)" font-size="10.9" text-anchor="start" stroke="#080808" stroke-width="0.28">264</text>
<path d="M35.3 686.8H193.6V794.1H35.3ZM35.3 706.8H193.6M35.3 727.1H193.6M35.3 747.4H193.6M35.3 767.5H193.6M85 686.8V794.1" stroke="#000" stroke-width="1.45" fill="none"/>
<text transform="translate(60.15 703.8) scale(1.0 1.0)" font-size="10.9" text-anchor="middle" stroke="#080808" stroke-width="0.28">GM</text>
<text transform="translate(89.2 703.8) scale(1.0 1.0)" font-size="10.9" text-anchor="start" stroke="#080808" stroke-width="0.28">0</text>
<text transform="translate(121.4 703.8) scale(1.0 1.0)" font-size="10.9" text-anchor="start" stroke="#080808" stroke-width="0.28">2</text>
<text transform="translate(150.5 703.8) scale(1.0 1.0)" font-size="10.9" text-anchor="start" stroke="#080808" stroke-width="0.28">6</text>
<text transform="translate(60.15 724.3) scale(1.0 1.0)" font-size="10.9" text-anchor="middle" stroke="#080808" stroke-width="0.28">DC</text>
<text transform="translate(89.2 724.3) scale(1.0 1.0)" font-size="10.9" text-anchor="start" stroke="#080808" stroke-width="0.28">0</text>
<text transform="translate(121.4 724.3) scale(1.0 1.0)" font-size="10.9" text-anchor="start" stroke="#080808" stroke-width="0.28">12</text>
<text transform="translate(150.5 724.3) scale(1.0 1.0)" font-size="10.9" text-anchor="start" stroke="#080808" stroke-width="0.28">651</text>
<text transform="translate(60.15 744.5) scale(1.0 1.0)" font-size="10.9" text-anchor="middle" stroke="#080808" stroke-width="0.28">B</text>
<text transform="translate(89.2 744.5) scale(1.0 1.0)" font-size="10.9" text-anchor="start" stroke="#080808" stroke-width="0.28">0</text>
<text transform="translate(121.4 744.5) scale(1.0 1.0)" font-size="10.9" text-anchor="start" stroke="#080808" stroke-width="0.28">0</text>
<text transform="translate(150.5 744.5) scale(1.0 1.0)" font-size="10.9" text-anchor="start" stroke="#080808" stroke-width="0.28">10</text>
<text transform="translate(60.15 764.5) scale(1.0 1.0)" font-size="10.9" text-anchor="middle" stroke="#080808" stroke-width="0.28">T, CD4<tspan font-size="6" dy="-3.5">+</tspan></text>
<text transform="translate(89.2 764.5) scale(1.0 1.0)" font-size="10.9" text-anchor="start" stroke="#080808" stroke-width="0.28">0</text>
<text transform="translate(121.4 764.5) scale(1.0 1.0)" font-size="10.9" text-anchor="start" stroke="#080808" stroke-width="0.28">0</text>
<text transform="translate(150.5 764.5) scale(1.0 1.0)" font-size="10.9" text-anchor="start" stroke="#080808" stroke-width="0.28">357</text>
<text transform="translate(60.15 791.3) scale(1.0 1.0)" font-size="10.9" text-anchor="middle" stroke="#080808" stroke-width="0.28">T, CD25<tspan font-size="6" dy="-3.5">+</tspan></text>
<text transform="translate(89.2 791.3) scale(1.0 1.0)" font-size="10.9" text-anchor="start" stroke="#080808" stroke-width="0.28">0</text>
<text transform="translate(121.4 791.3) scale(1.0 1.0)" font-size="10.9" text-anchor="start" stroke="#080808" stroke-width="0.28">1</text>
<text transform="translate(150.5 791.3) scale(1.0 1.0)" font-size="10.9" text-anchor="start" stroke="#080808" stroke-width="0.28">1430</text>
<path d="M208 686.8H365.6V794.1H208ZM208 706.8H365.6M208 727.1H365.6M208 747.4H365.6M208 767.5H365.6M253 686.8V794.1" stroke="#000" stroke-width="1.45" fill="none"/>
<text transform="translate(230.5 703.8) scale(1.0 1.0)" font-size="10.9" text-anchor="middle" stroke="#080808" stroke-width="0.28">GM</text>
<text transform="translate(257 703.8) scale(1.0 1.0)" font-size="10.9" text-anchor="start" stroke="#080808" stroke-width="0.28">0</text>
<text transform="translate(284.5 703.8) scale(1.0 1.0)" font-size="10.9" text-anchor="start" stroke="#080808" stroke-width="0.28">0</text>
<text transform="translate(318.7 703.8) scale(1.0 1.0)" font-size="10.9" text-anchor="start" stroke="#080808" stroke-width="0.28">0</text>
<text transform="translate(230.5 724.3) scale(1.0 1.0)" font-size="10.9" text-anchor="middle" stroke="#080808" stroke-width="0.28">DC</text>
<text transform="translate(257 724.3) scale(1.0 1.0)" font-size="10.9" text-anchor="start" stroke="#080808" stroke-width="0.28">0</text>
<text transform="translate(284.5 724.3) scale(1.0 1.0)" font-size="10.9" text-anchor="start" stroke="#080808" stroke-width="0.28">14</text>
<text transform="translate(318.7 724.3) scale(1.0 1.0)" font-size="10.9" text-anchor="start" stroke="#080808" stroke-width="0.28">255</text>
<text transform="translate(230.5 744.5) scale(1.0 1.0)" font-size="10.9" text-anchor="middle" stroke="#080808" stroke-width="0.28">B</text>
<text transform="translate(257 744.5) scale(1.0 1.0)" font-size="10.9" text-anchor="start" stroke="#080808" stroke-width="0.28">7</text>
<text transform="translate(284.5 744.5) scale(1.0 1.0)" font-size="10.9" text-anchor="start" stroke="#080808" stroke-width="0.28">0</text>
<text transform="translate(318.7 744.5) scale(1.0 1.0)" font-size="10.9" text-anchor="start" stroke="#080808" stroke-width="0.28">140</text>
<text transform="translate(230.5 764.5) scale(1.0 1.0)" font-size="10.9" text-anchor="middle" stroke="#080808" stroke-width="0.28">T, CD4<tspan font-size="6" dy="-3.5">+</tspan></text>
<text transform="translate(257 764.5) scale(1.0 1.0)" font-size="10.9" text-anchor="start" stroke="#080808" stroke-width="0.28">0</text>
<text transform="translate(284.5 764.5) scale(1.0 1.0)" font-size="10.9" text-anchor="start" stroke="#080808" stroke-width="0.28">0</text>
<text transform="translate(318.7 764.5) scale(1.0 1.0)" font-size="10.9" text-anchor="start" stroke="#080808" stroke-width="0.28">25710</text>
<text transform="translate(230.5 778) scale(1.0 1.0)" font-size="10.9" text-anchor="middle" stroke="#080808" stroke-width="0.28">T,</text>
<text transform="translate(230.5 791.3) scale(1.0 1.0)" font-size="10.9" text-anchor="middle" stroke="#080808" stroke-width="0.28">CD25<tspan font-size="6" dy="-3.5">+</tspan></text>
<text transform="translate(257 791.3) scale(1.0 1.0)" font-size="10.9" text-anchor="start" stroke="#080808" stroke-width="0.28">0</text>
<text transform="translate(284.5 791.3) scale(1.0 1.0)" font-size="10.9" text-anchor="start" stroke="#080808" stroke-width="0.28">144</text>
<text transform="translate(318.7 791.3) scale(1.0 1.0)" font-size="10.9" text-anchor="start" stroke="#080808" stroke-width="0.28">1488</text>
<path d="M377.5 686.8H514.5V794.1H377.5ZM377.5 706.8H514.5M377.5 727.1H514.5M377.5 747.4H514.5M377.5 767.5H514.5M423.8 686.8V794.1" stroke="#000" stroke-width="1.45" fill="none"/>
<text transform="translate(400.65 703.8) scale(1.0 1.0)" font-size="10.9" text-anchor="middle" stroke="#080808" stroke-width="0.28">GM</text>
<text transform="translate(428 703.8) scale(1.0 1.0)" font-size="10.9" text-anchor="start" stroke="#080808" stroke-width="0.28">0</text>
<text transform="translate(456.2 703.8) scale(1.0 1.0)" font-size="10.9" text-anchor="start" stroke="#080808" stroke-width="0.28">0</text>
<text transform="translate(490 703.8) scale(1.0 1.0)" font-size="10.9" text-anchor="start" stroke="#080808" stroke-width="0.28">0</text>
<text transform="translate(400.65 724.3) scale(1.0 1.0)" font-size="10.9" text-anchor="middle" stroke="#080808" stroke-width="0.28">DC</text>
<text transform="translate(428 724.3) scale(1.0 1.0)" font-size="10.9" text-anchor="start" stroke="#080808" stroke-width="0.28">0</text>
<text transform="translate(456.2 724.3) scale(1.0 1.0)" font-size="10.9" text-anchor="start" stroke="#080808" stroke-width="0.28">39</text>
<text transform="translate(490 724.3) scale(1.0 1.0)" font-size="10.9" text-anchor="start" stroke="#080808" stroke-width="0.28">7</text>
<text transform="translate(400.65 744.5) scale(1.0 1.0)" font-size="10.9" text-anchor="middle" stroke="#080808" stroke-width="0.28">B</text>
<text transform="translate(428 744.5) scale(1.0 1.0)" font-size="10.9" text-anchor="start" stroke="#080808" stroke-width="0.28">5</text>
<text transform="translate(456.2 744.5) scale(1.0 1.0)" font-size="10.9" text-anchor="start" stroke="#080808" stroke-width="0.28">0</text>
<text transform="translate(490 744.5) scale(1.0 1.0)" font-size="10.9" text-anchor="start" stroke="#080808" stroke-width="0.28">0</text>
<text transform="translate(400.65 764.5) scale(1.0 1.0)" font-size="10.9" text-anchor="middle" stroke="#080808" stroke-width="0.28">T, CD4<tspan font-size="6" dy="-3.5">+</tspan></text>
<text transform="translate(428 764.5) scale(1.0 1.0)" font-size="10.9" text-anchor="start" stroke="#080808" stroke-width="0.28">0</text>
<text transform="translate(456.2 764.5) scale(1.0 1.0)" font-size="10.9" text-anchor="start" stroke="#080808" stroke-width="0.28">8</text>
<text transform="translate(490 764.5) scale(1.0 1.0)" font-size="10.9" text-anchor="start" stroke="#080808" stroke-width="0.28">296</text>
<text transform="translate(400.65 791.3) scale(1.0 1.0)" font-size="10.9" text-anchor="middle" stroke="#080808" stroke-width="0.28">T, CD25<tspan font-size="6" dy="-3.5">+</tspan></text>
<text transform="translate(428 791.3) scale(1.0 1.0)" font-size="10.9" text-anchor="start" stroke="#080808" stroke-width="0.28">0</text>
<text transform="translate(456.2 791.3) scale(1.0 1.0)" font-size="10.9" text-anchor="start" stroke="#080808" stroke-width="0.28">0</text>
<text transform="translate(490 791.3) scale(1.0 1.0)" font-size="10.9" text-anchor="start" stroke="#080808" stroke-width="0.28">0</text>
</svg>
</body></html>
